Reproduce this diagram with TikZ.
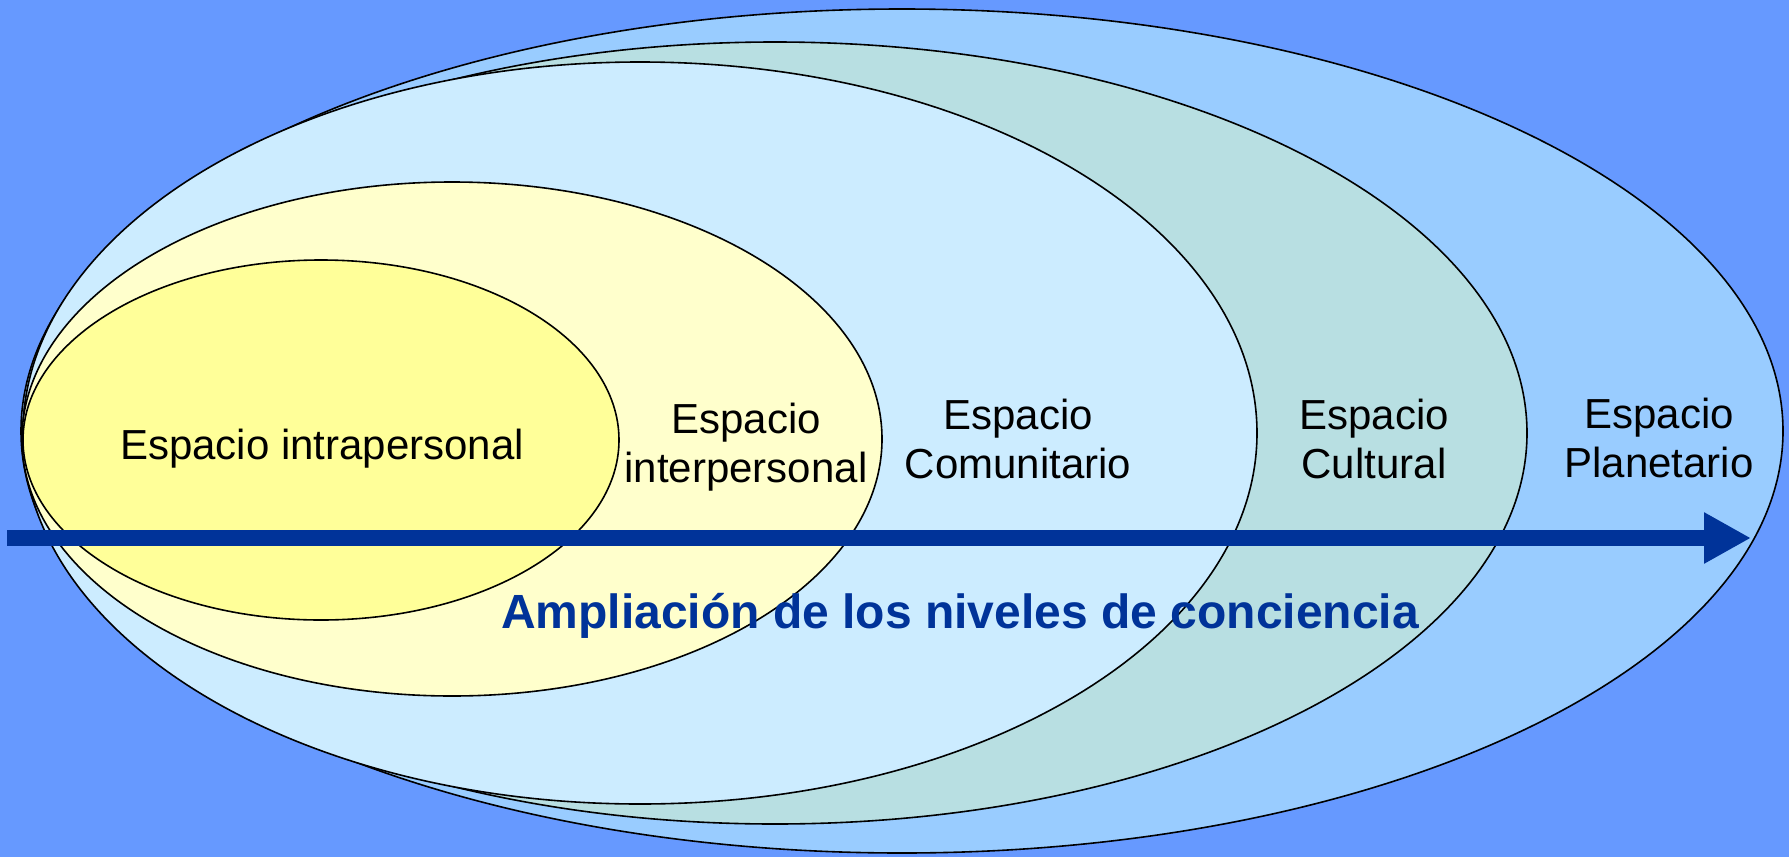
\documentclass[tikz,border=0pt]{standalone}
\usepackage{fontspec}
\setmainfont{Liberation Sans}
\usetikzlibrary{arrows.meta}
\definecolor{bgblue}{HTML}{6699FF}
\definecolor{planet}{HTML}{99CCFF}
\definecolor{cultur}{HTML}{B8DFE2}
\definecolor{comuni}{HTML}{CCECFF}
\definecolor{inter}{HTML}{FFFFCC}
\definecolor{intra}{HTML}{FFFF99}
\definecolor{arrowblue}{HTML}{003399}
\tikzset{
  zone/.style={draw=black, line width=1.6pt},
  lbl/.style={font=\fontsize{42}{49}\selectfont, align=center, inner sep=0pt, text=black},
  titletext/.style={font=\fontsize{48}{56}\selectfont\bfseries, text=arrowblue, inner sep=0pt},
  bigarrow/.style={draw=arrowblue, line width=16pt, -{Triangle[length=47pt,width=48pt]}}
}
\begin{document}
\begin{tikzpicture}[x=1pt,y=-1pt]
\useasboundingbox (0,0) rectangle (1789,857);
\fill[bgblue] (0,0) rectangle (1789,857);
% ellipses
\filldraw[zone, fill=planet] (902,431) ellipse [x radius=881pt, y radius=422pt];
\filldraw[zone, fill=cultur] (775,433) ellipse [x radius=752pt, y radius=391pt];
\filldraw[zone, fill=comuni] (640,433) ellipse [x radius=617pt, y radius=371pt];
\filldraw[zone, fill=inter] (452,439) ellipse [x radius=430pt, y radius=257pt];
\filldraw[zone, fill=intra] (321,440) ellipse [x radius=298pt, y radius=180pt];
% arrow
\coordinate (as) at (7,538);
\coordinate (ae) at (1751,538);
\draw[bigarrow] (as) -- (ae);
% labels
\node[lbl] (intra) at (322,449) {Espacio intrapersonal};
\node[lbl] (inter) at (746,447) {Espacio\\interpersonal};
\node[lbl] (comun) at (1018,439) {Espacio\\Comunitario};
\node[lbl] (cult) at (1374,439) {Espacio\\Cultural};
\node[lbl] (plan) at (1659,438) {Espacio\\Planetario};
\node[titletext, anchor=base] (title) at (960,628) {Ampliación de los niveles de conciencia};
\end{tikzpicture}
\end{document}
